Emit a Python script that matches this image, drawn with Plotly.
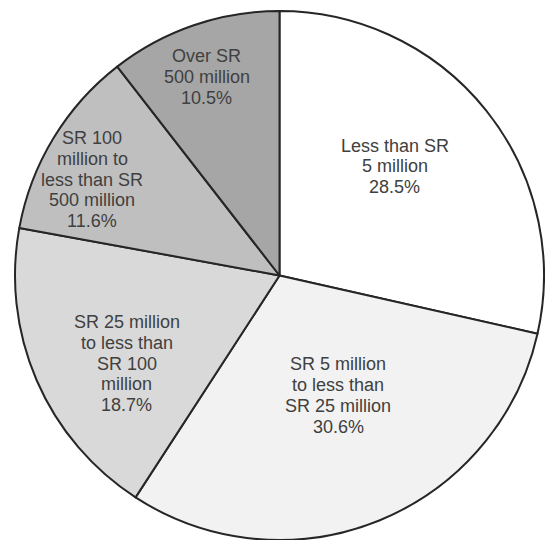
import math
import plotly.graph_objects as go

labels = [
    "Less than SR 5 million",
    "SR 5 million to less than SR 25 million",
    "SR 25 million to less than SR 100 million",
    "SR 100 million to less than SR 500 million",
    "Over SR 500 million",
]
label_lines = [
    ["Less than SR", "5 million"],
    ["SR 5 million", "to less than", "SR 25 million"],
    ["SR 25 million", "to less than", "SR 100", "million"],
    ["SR 100", "million to", "less than SR", "500 million"],
    ["Over SR", "500 million"],
]
values = [28.5, 30.6, 18.7, 11.6, 10.5]
colors = ["#ffffff", "#f2f2f2", "#d9d9d9", "#bfbfbf", "#a6a6a6"]

# label placement (layout constants): angle offset from slice mid-angle (deg), radius fraction
label_angle_offset = [-4.8, -4.0, -6.6, -4.1, -1.2]
label_radius_frac = [0.60, 0.505, 0.667, 0.795, 0.80]

W, H = 545, 540
ML, MR, MT, MB = 15, 1, 11, 0
R = min(W - ML - MR, H - MT - MB) / 2
LINE_H = 20.8
FONT = dict(family="Liberation Sans, Arial, sans-serif", size=18, color="#404040")

fig = go.Figure(
    go.Pie(
        labels=labels,
        values=values,
        textinfo="none",
        sort=False,
        direction="clockwise",
        rotation=0,
        marker=dict(colors=colors, line=dict(color="#262626", width=2)),
        hoverinfo="label+percent",
    )
)

total = sum(values)
cum = 0.0
annotations = []
for i, v in enumerate(values):
    mid = (cum + v / 2) / total * 360.0
    cum += v
    ang = math.radians(mid + label_angle_offset[i])
    r = label_radius_frac[i] * R
    dx = r * math.sin(ang)
    dy = r * math.cos(ang)  # upward positive
    lines = label_lines[i] + [f"{v:.1f}%"]
    n = len(lines)
    for j, t in enumerate(lines):
        annotations.append(
            dict(
                x=0.5, y=0.5, xref="paper", yref="paper",
                text=t, showarrow=False,
                xanchor="center", yanchor="middle",
                xshift=dx, yshift=dy - (j - (n - 1) / 2) * LINE_H,
                font=FONT,
            )
        )

fig.update_layout(
    width=W,
    height=H,
    margin=dict(l=ML, r=MR, t=MT, b=MB),
    showlegend=False,
    paper_bgcolor="white",
    plot_bgcolor="white",
    annotations=annotations,
)
fig.write_html("out.html")
